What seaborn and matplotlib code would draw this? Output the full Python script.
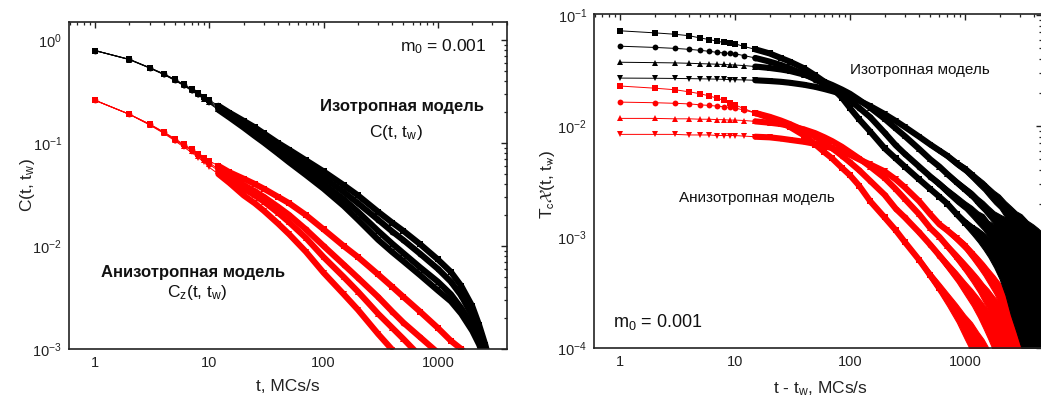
import numpy as np
import pandas as pd
import matplotlib
matplotlib.use("Agg")
import matplotlib.pyplot as plt
import seaborn as sns
from matplotlib.ticker import LogLocator, NullFormatter, FixedLocator, FixedFormatter

nan = np.nan

# ---------------- left panel: autocorrelation C(t, tw) ----------------
t_left = [1, 2, 3, 4, 5, 6, 7, 8, 9, 10, 12, 15, 20, 25, 30, 40, 50, 70, 100,
          150, 200, 300, 400, 500, 700, 1000, 1300, 1600, 2000, 2300, 2600, 3000]

c_iso_1 = [0.79, 0.65, 0.54, 0.47, 0.415, 0.37, 0.335, 0.305, 0.28, 0.26,
           0.23, 0.197, 0.164, 0.142, 0.124, 0.1, 0.086, 0.068, 0.053,
           0.039, 0.031, 0.0215, 0.0168, 0.014, 0.0104, 0.0074, 0.0056, 0.0041,
           0.0026, 0.0017, 0.0011, 0.0006]
c_iso_2 = [0.79, 0.648, 0.538, 0.467, 0.41, 0.366, 0.33, 0.3, 0.275, 0.254,
           0.222, 0.189, 0.154, 0.132, 0.115, 0.092, 0.078, 0.06, 0.046,
           0.0335, 0.026, 0.018, 0.0138, 0.0114, 0.0084, 0.006, 0.0045, 0.0033,
           0.0021, 0.0014, 0.0009, 0.0005]
c_iso_3 = [0.79, 0.646, 0.536, 0.464, 0.407, 0.363, 0.326, 0.296, 0.27, 0.248,
           0.215, 0.183, 0.147, 0.124, 0.108, 0.085, 0.071, 0.054, 0.04,
           0.0285, 0.0215, 0.014, 0.0105, 0.0085, 0.0062, 0.0045, 0.0034, 0.0025,
           0.0017, 0.0012, 0.0008, 0.00045]
c_iso_4 = [0.79, 0.645, 0.535, 0.462, 0.405, 0.36, 0.322, 0.292, 0.266, 0.243,
           0.21, 0.177, 0.141, 0.117, 0.101, 0.079, 0.065, 0.049, 0.036,
           0.0245, 0.018, 0.0115, 0.0087, 0.0071, 0.0052, 0.0037, 0.0029, 0.0022,
           0.0015, 0.0011, 0.00075, 0.0004]

c_an_1 = [0.26, 0.19, 0.153, 0.128, 0.11, 0.097, 0.087, 0.079, 0.072, 0.067,
          0.06, 0.052, 0.045, 0.04, 0.036, 0.03, 0.026, 0.02, 0.0145,
          0.01, 0.0078, 0.0053, 0.004, 0.0032, 0.0023, 0.0016, 0.0012, 0.001,
          0.0008, nan, nan, nan]
c_an_2 = [0.26, 0.19, 0.152, 0.127, 0.108, 0.095, 0.085, 0.077, 0.07, 0.064,
          0.056, 0.048, 0.039, 0.034, 0.03, 0.024, 0.02, 0.0145, 0.01,
          0.0066, 0.0049, 0.0032, 0.0023, 0.0018, 0.0013, 0.00092, 0.0007, nan,
          nan, nan, nan, nan]
c_an_3 = [0.26, 0.19, 0.151, 0.126, 0.107, 0.094, 0.084, 0.075, 0.068, 0.062,
          0.054, 0.045, 0.036, 0.031, 0.027, 0.021, 0.017, 0.012, 0.0078,
          0.005, 0.0036, 0.0022, 0.0016, 0.00125, 0.00085, 0.0005, nan, nan,
          nan, nan, nan, nan]
c_an_4 = [0.26, 0.19, 0.15, 0.124, 0.105, 0.091, 0.081, 0.072, 0.065, 0.058,
          0.05, 0.041, 0.031, 0.026, 0.022, 0.0165, 0.013, 0.0088, 0.0055,
          0.0034, 0.0024, 0.0014, 0.00098, 0.0007, nan, nan, nan, nan,
          nan, nan, nan, nan]

# ---------------- right panel: susceptibility Tc*chi(t, tw) ----------------
t_right = [1, 2, 3, 4, 5, 6, 7, 8, 9, 10, 12, 15, 20, 25, 30, 40, 50, 60, 70, 85,
           100, 120, 150, 200, 250, 300, 400, 500, 600, 700, 850, 1000, 1150, 1300,
           1450, 1600, 1800, 2000, 2250, 2500, 2800, 3100, 3500, 3900, 4300, 4700]

x_iso_1 = [0.072, 0.069, 0.067, 0.065, 0.062, 0.06, 0.058, 0.0565, 0.0555, 0.055,
           0.052, 0.049, 0.045, 0.041, 0.038, 0.033, 0.0285, 0.025, 0.022, 0.018,
           0.0145, 0.0115, 0.0089, 0.0063, 0.0051,
           0.0043, 0.0033, 0.0027, 0.0023, 0.002, 0.0016, 0.00135, 0.0012, 0.00105, 0.00093,
           0.00085, 0.00075, 0.00066, 0.00058, 0.00052, 0.00046, 0.0004, 0.00035, 0.0003,
           0.00027, 0.00024]
x_iso_2 = [0.0523, 0.051, 0.05, 0.049, 0.048, 0.047, 0.046, 0.0455, 0.045, 0.0447,
           0.043, 0.041, 0.038, 0.0355, 0.033, 0.0293, 0.0262, 0.0237, 0.0215, 0.019,
           0.017, 0.0146, 0.012, 0.0087, 0.0067,
           0.0056, 0.0043, 0.0035, 0.003, 0.0026, 0.0022, 0.0019, 0.0017, 0.0015, 0.00135,
           0.0012, 0.00107, 0.00096, 0.00086, 0.00077, 0.00069, 0.00062, 0.00055, 0.00049,
           0.00044, 0.0004]
x_iso_3 = [0.0375, 0.0372, 0.037, 0.0367, 0.0364, 0.0362, 0.036, 0.0358, 0.0356, 0.0354,
           0.035, 0.0343, 0.0333, 0.0323, 0.0313, 0.029, 0.0268, 0.025, 0.0234, 0.0213,
           0.0195, 0.0172, 0.0146, 0.0116, 0.0095,
           0.0081, 0.0062, 0.005, 0.0043, 0.0037, 0.0031, 0.0027, 0.0024, 0.0021, 0.0019,
           0.0017, 0.0015, 0.00135, 0.0012, 0.00107, 0.00096, 0.00087, 0.00077, 0.00069,
           0.00062, 0.00057]
x_iso_4 = [0.027, 0.0269, 0.0268, 0.0267, 0.0266, 0.0265, 0.0264, 0.0263, 0.0262, 0.0261,
           0.026, 0.0258, 0.0254, 0.025, 0.0245, 0.0235, 0.0225, 0.0215, 0.0206, 0.0194,
           0.0183, 0.0169, 0.0151, 0.0128, 0.0111,
           0.0098, 0.008, 0.0068, 0.006, 0.0054, 0.0046, 0.0041, 0.0036, 0.0032, 0.0029,
           0.0026, 0.0023, 0.0021, 0.0018, 0.0016, 0.0014, 0.0013, 0.0011, 0.00098,
           0.00088, 0.0008]

x_an_1 = [0.0229, 0.0219, 0.0212, 0.0203, 0.0195, 0.0186, 0.0178, 0.017, 0.0162, 0.0155,
          0.0143, 0.0131, 0.0118, 0.0108, 0.0098, 0.0082, 0.0068, 0.0058, 0.0051, 0.0042,
          0.0036, 0.0029, 0.0021, 0.0015, 0.00115,
          0.0009, 0.00062, 0.00045, 0.00035, 0.00028, 0.00021, 0.00016, 0.00013, 0.0001, 0.00008,
          0.000065, nan, nan, nan, nan, nan, nan, nan, nan, nan, nan]
x_an_2 = [0.0164, 0.0162, 0.016, 0.0158, 0.0155, 0.0153, 0.0151, 0.0149, 0.0147, 0.0145,
          0.0139, 0.0131, 0.0121, 0.0112, 0.0104, 0.0091, 0.008, 0.0071, 0.0063, 0.0054,
          0.0047, 0.004, 0.0032, 0.0024, 0.0018,
          0.0015, 0.0011, 0.00085, 0.00068, 0.00056, 0.00044, 0.00035, 0.00029, 0.00024, 0.0002,
          0.00017, 0.00014, 0.00012, 0.0001, 0.00008, nan, nan, nan, nan, nan, nan]
x_an_3 = [0.0117, 0.0117, 0.0116, 0.0116, 0.0115, 0.0115, 0.0114, 0.0114, 0.0113, 0.0113,
          0.0112, 0.011, 0.0107, 0.0104, 0.01, 0.0093, 0.0086, 0.0079, 0.0073, 0.0065,
          0.0058, 0.0051, 0.0043, 0.0034, 0.0027,
          0.0022, 0.0016, 0.0012, 0.001, 0.00083, 0.00066, 0.00054, 0.00045, 0.00038, 0.00032,
          0.00028, 0.00023, 0.0002, 0.00016, 0.00013, 0.00011, 0.00009, nan, nan, nan, nan]
x_an_4 = [0.0084, 0.0084, 0.0084, 0.0083, 0.0083, 0.0083, 0.0082, 0.0082, 0.0082, 0.0082,
          0.0081, 0.008, 0.0079, 0.0077, 0.0075, 0.0072, 0.0069, 0.0066, 0.0063, 0.0059,
          0.0055, 0.005, 0.0045, 0.0039, 0.0033,
          0.0028, 0.0021, 0.0016, 0.0013, 0.00115, 0.00097, 0.00083, 0.0007, 0.0006, 0.00052,
          0.00045, 0.00038, 0.00032, 0.00026, 0.00021, 0.00017, 0.00014, 0.00011, 0.00008,
          nan, nan]

# scatter envelope of the noisy late-time tails (t >= 300)
t_tail = [300, 400, 500, 600, 700, 850, 1000, 1150, 1300, 1450, 1600, 1800, 2000,
          2250, 2500, 2800, 3100, 3500, 3900, 4300, 4700]

iso_1_lo = [0.0041, 0.0032, 0.0026, 0.0022, 0.0019, 0.0015, 0.00124, 0.00105, 0.0009, 0.00077,
            0.00066, 0.00053, 0.00042, 0.0003, 0.0002, 0.00014, 0.0001, 0.00008, 0.00006,
            0.00005, 0.00004]
iso_1_hi = [0.0045, 0.0034, 0.0028, 0.0024, 0.0021, 0.0017, 0.00146, 0.0013, 0.0012, 0.0011,
            0.001, 0.00092, 0.00085, 0.0008, 0.00075, 0.0007, 0.00065, 0.0006, 0.00055,
            0.0005, 0.00048]
iso_2_lo = [0.0054, 0.0041, 0.0033, 0.0028, 0.0024, 0.002, 0.00175, 0.0015, 0.0013, 0.00115,
            0.001, 0.00085, 0.00073, 0.0006, 0.0005, 0.0004, 0.00033, 0.00026, 0.0002,
            0.00016, 0.00013]
iso_2_hi = [0.0058, 0.0045, 0.0037, 0.0032, 0.0028, 0.0024, 0.0021, 0.0019, 0.0017, 0.0016,
            0.0014, 0.0013, 0.0012, 0.0011, 0.001, 0.00095, 0.0009, 0.00085, 0.0008,
            0.00075, 0.0007]
iso_3_lo = [0.0078, 0.006, 0.0048, 0.0041, 0.0035, 0.0029, 0.0025, 0.0022, 0.0019, 0.0017,
            0.0015, 0.0013, 0.00112, 0.00095, 0.0008, 0.00068, 0.00058, 0.00048, 0.0004,
            0.00033, 0.00028]
iso_3_hi = [0.0084, 0.0064, 0.0052, 0.0045, 0.0039, 0.0033, 0.0029, 0.0026, 0.0023, 0.0021,
            0.0019, 0.0017, 0.0016, 0.0015, 0.0014, 0.0013, 0.0012, 0.0011, 0.001,
            0.00093, 0.00087]
iso_4_lo = [0.0095, 0.0077, 0.0065, 0.0057, 0.0051, 0.0043, 0.0038, 0.0033, 0.0029, 0.0026,
            0.0023, 0.002, 0.0018, 0.0015, 0.0013, 0.0011, 0.001, 0.00082, 0.0007,
            0.0006, 0.00052]
iso_4_hi = [0.0101, 0.0083, 0.0071, 0.0063, 0.0057, 0.0049, 0.0044, 0.0039, 0.0035, 0.0032,
            0.0029, 0.0026, 0.0024, 0.0021, 0.0019, 0.0017, 0.0016, 0.0014, 0.0013,
            0.0012, 0.0011]

an_1_lo = [0.00086, 0.00058, 0.00041, 0.00031, 0.00024, 0.00017, 0.00012, 0.00009, 0.00007,
           0.00005, 0.00004, nan, nan, nan, nan, nan, nan, nan, nan, nan, nan]
an_1_hi = [0.00094, 0.00066, 0.00049, 0.00039, 0.00032, 0.00025, 0.0002, 0.00017, 0.00014,
           0.00012, 0.0001, nan, nan, nan, nan, nan, nan, nan, nan, nan, nan]
an_2_lo = [0.00145, 0.00105, 0.0008, 0.00063, 0.00051, 0.00039, 0.0003, 0.00024, 0.00019,
           0.00015, 0.00012, 0.00009, 0.00007, 0.00005, 0.00004, nan, nan, nan, nan, nan, nan]
an_2_hi = [0.00155, 0.00115, 0.0009, 0.00073, 0.00061, 0.00049, 0.0004, 0.00034, 0.00029,
           0.00025, 0.00022, 0.00019, 0.00017, 0.00015, 0.00013, nan, nan, nan, nan, nan, nan]
an_3_lo = [0.00213, 0.00154, 0.00115, 0.00095, 0.00078, 0.0006, 0.00048, 0.00039, 0.00032,
           0.00026, 0.00022, 0.00017, 0.00014, 0.0001, 0.00008, 0.00006, 0.00005,
           nan, nan, nan, nan]
an_3_hi = [0.00227, 0.00166, 0.00125, 0.00105, 0.00088, 0.00072, 0.0006, 0.00051, 0.00044,
           0.00038, 0.00034, 0.00029, 0.00026, 0.00022, 0.00019, 0.00016, 0.00014,
           nan, nan, nan, nan]
an_4_lo = [0.0027, 0.00203, 0.00154, 0.00124, 0.00109, 0.0009, 0.00076, 0.00063, 0.00053,
           0.00045, 0.00038, 0.00031, 0.00025, 0.0002, 0.00015, 0.00011, 0.00009, 0.00007,
           0.00005, nan, nan]
an_4_hi = [0.0029, 0.00217, 0.00166, 0.00136, 0.00121, 0.00104, 0.0009, 0.00077, 0.00067,
           0.00059, 0.00052, 0.00045, 0.00039, 0.00032, 0.00027, 0.00023, 0.0002, 0.00016,
           0.00013, nan, nan]

x_ticks = [1, 10, 100, 1000]
x_tick_labels = ["1", "10", "100", "1000"]

# ---------------- style ----------------
sns.set_theme(style="white")
plt.rcParams["font.family"] = ["Liberation Sans", "DejaVu Sans"]
plt.rcParams["mathtext.fontset"] = "custom"
plt.rcParams["mathtext.rm"] = "Liberation Sans"
plt.rcParams["mathtext.it"] = "Liberation Sans:italic"
plt.rcParams["mathtext.bf"] = "Liberation Sans:bold"
plt.rcParams["mathtext.sf"] = "Liberation Sans"

BLACK = "#000000"
RED = "#ff0000"


def long_frame(t, series):
    rows = []
    for name, vals in series:
        for tt, v in zip(t, vals):
            if not np.isnan(v):
                rows.append((name, tt, v))
    return pd.DataFrame(rows, columns=["curve", "t", "v"])


left_series = [("an1", c_an_1), ("an2", c_an_2), ("an3", c_an_3), ("an4", c_an_4),
               ("iso1", c_iso_1), ("iso2", c_iso_2), ("iso3", c_iso_3), ("iso4", c_iso_4)]
right_series = [("an1", x_an_1), ("an2", x_an_2), ("an3", x_an_3), ("an4", x_an_4),
                ("iso1", x_iso_1), ("iso2", x_iso_2), ("iso3", x_iso_3), ("iso4", x_iso_4)]
right_tails = [("an1", an_1_lo, an_1_hi), ("an2", an_2_lo, an_2_hi),
               ("an3", an_3_lo, an_3_hi), ("an4", an_4_lo, an_4_hi),
               ("iso1", iso_1_lo, iso_1_hi), ("iso2", iso_2_lo, iso_2_hi),
               ("iso3", iso_3_lo, iso_3_hi), ("iso4", iso_4_lo, iso_4_hi)]

order = [n for n, _ in left_series]
palette = {n: (RED if n.startswith("an") else BLACK) for n in order}
marker_map = {"an1": "s", "an2": "o", "an3": "^", "an4": "v",
              "iso1": "s", "iso2": "o", "iso3": "^", "iso4": "v"}

df_left = long_frame(t_left, left_series)
df_right = long_frame(t_right, right_series)


def draw_curves(ax, frame, dense_from, band_width):
    # thin connecting line with a symbol at every sample
    sns.lineplot(data=frame, x="t", y="v", hue="curve", style="curve",
                 hue_order=order, style_order=order, palette=palette,
                 markers=marker_map, dashes=False, markersize=4.2,
                 markeredgewidth=0, linewidth=0.7, estimator=None, sort=False,
                 legend=False, ax=ax)
    # where the symbols crowd together they read as a solid band
    dense = frame[frame["t"] >= dense_from]
    sns.lineplot(data=dense, x="t", y="v", hue="curve", hue_order=order,
                 palette=palette, linewidth=band_width, estimator=None,
                 sort=False, legend=False, ax=ax)


def draw_tails(ax, tails):
    for name, lo, hi in tails:
        ax.fill_between(t_tail, lo, hi, color=palette[name], lw=0.8,
                        edgecolor=palette[name], zorder=2.5)


def style_axes(ax, xlim, ylim):
    ax.set_xscale("log")
    ax.set_yscale("log")
    ax.set_xlim(*xlim)
    ax.set_ylim(*ylim)
    ax.xaxis.set_major_locator(FixedLocator(x_ticks))
    ax.xaxis.set_major_formatter(FixedFormatter(x_tick_labels))
    ax.xaxis.set_minor_locator(LogLocator(base=10, subs=np.arange(2, 10), numticks=20))
    ax.xaxis.set_minor_formatter(NullFormatter())
    ax.yaxis.set_major_locator(LogLocator(base=10, numticks=10))
    ax.yaxis.set_minor_locator(LogLocator(base=10, subs=np.arange(2, 10), numticks=20))
    ax.yaxis.set_minor_formatter(NullFormatter())
    ax.tick_params(which="both", direction="in", top=True, right=True,
                   colors="#222222", labelcolor="#222222", labelsize=10.5)
    ax.tick_params(which="major", length=4.5, width=1.0, pad=5)
    ax.tick_params(which="minor", length=2.5, width=0.9)
    for s in ax.spines.values():
        s.set_linewidth(1.2)
        s.set_color("#222222")
        s.set_zorder(5)
    ax.set_facecolor("white")


W, H = 1041, 399
fig = plt.figure(figsize=(W / 100, H / 100), dpi=100)
fig.patch.set_facecolor("white")

axL = fig.add_axes([69 / W, 1 - 349 / H, (507 - 69) / W, (349 - 22) / H])
axR = fig.add_axes([594 / W, 1 - 348 / H, (1042 - 594) / W, (348 - 14) / H])

for ax in (axL, axR):
    ax.set_xscale("log")
    ax.set_yscale("log")

draw_curves(axL, df_left, 12, 4.4)
draw_curves(axR, df_right, 15, 4.4)
draw_tails(axR, right_tails)

style_axes(axL, (0.592, 4025), (1e-3, 1.496))
style_axes(axR, (0.594, 4677), (1e-4, 0.102))

axL.set_xlabel("t, MCs/s", fontsize=12.5, color="#222222")
axL.set_ylabel(r"C(t, t$_\mathrm{w}$)", fontsize=12.5, color="#222222")
axL.xaxis.set_label_coords(0.5, -0.092)
axL.yaxis.set_label_coords(-0.073, 0.5)

axR.set_xlabel(r"t - t$_\mathrm{w}$, MCs/s", fontsize=12.5, color="#222222")
axR.set_ylabel(r"T$_\mathrm{c}\mathcal{X}$(t, t$_\mathrm{w}$)", fontsize=12.5,
               color="#222222", math_fontfamily="stixsans")
axR.xaxis.set_label_coords((820 - 594) / 448, -0.093)
axR.yaxis.set_label_coords(-0.083, 0.49)


def ftext(x, y, s, **kw):
    fig.text(x / W, 1 - y / H, s, va="center", color="#111111", **kw)


# left panel annotations
ftext(400, 47, r"m$_\mathrm{0}$ = 0.001", ha="left", fontsize=12.5)
ftext(402, 107, "Изотропная модель", ha="center", fontsize=12, fontweight="bold")
ftext(396, 133, r"C(t, t$_\mathrm{w}$)", ha="center", fontsize=12.5)
ftext(193, 273, "Анизотропная модель", ha="center", fontsize=12, fontweight="bold")
ftext(197, 293, r"C$_\mathrm{z}$(t, t$_\mathrm{w}$)", ha="center", fontsize=12.5)

# right panel annotations
ftext(920, 70, "Изотропная модель", ha="center", fontsize=11)
ftext(757, 198, "Анизотропная модель", ha="center", fontsize=11)
ftext(613, 322, r"m$_\mathrm{0}$ = 0.001", ha="left", fontsize=13)

fig.savefig("out.png", dpi=100)
